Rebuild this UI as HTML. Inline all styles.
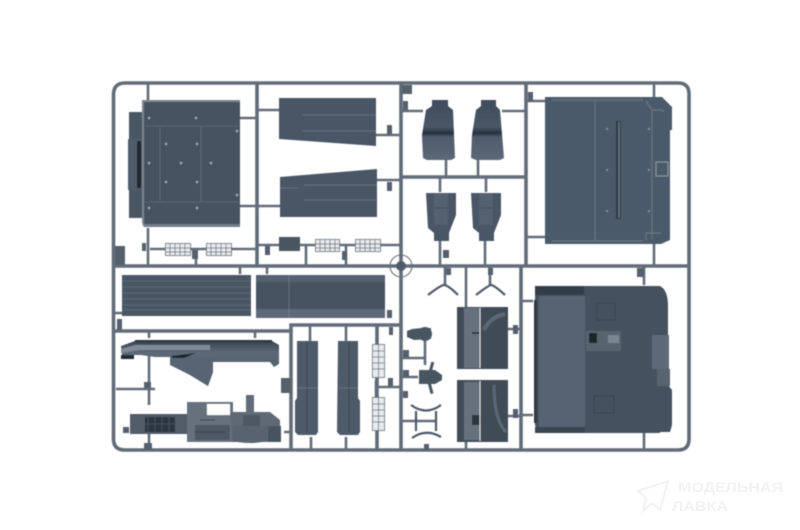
<!DOCTYPE html>
<html><head><meta charset="utf-8"><style>
html,body{margin:0;padding:0;background:#fff}
svg{display:block}
</style></head><body>
<svg width="800" height="530" viewBox="0 0 800 530" xmlns="http://www.w3.org/2000/svg" font-family="Liberation Sans, sans-serif">
<defs><filter id="b" x="-5%" y="-5%" width="110%" height="110%"><feGaussianBlur stdDeviation="0.5"/></filter>
<linearGradient id="seat" x1="0" y1="0" x2="0" y2="1"><stop offset="0" stop-color="#3f4d5c"/><stop offset=".45" stop-color="#4a5767"/><stop offset=".55" stop-color="#28323d"/><stop offset=".62" stop-color="#4f5c6c"/><stop offset="1" stop-color="#5c6877"/></linearGradient>
<linearGradient id="tray" x1="0" y1="0" x2="0" y2="1"><stop offset="0" stop-color="#37424e"/><stop offset=".25" stop-color="#5d6977"/><stop offset="1" stop-color="#4a5664"/></linearGradient>
</defs>
<rect width="800" height="530" fill="#fff"/>
<g filter="url(#b)">
<!-- runners -->
<g fill="none" stroke="#626c78" stroke-width="3.6">
<path d="M125 83H678Q689 83 689 94V439Q689 450 678 450H125Q113.500 450 113.500 439V95Q113.500 83 125 83Z"/>
<path d="M257 83V266M401 83V450M526 83V266M113 266H689M401 177H526M113 331H290M291 451V325H401M521 266V450M377 325V451"/>
</g>
<g fill="none" stroke="#626c78" stroke-width="2.600">
<path d="M148 84V100M148 228V266M240 118H257M240 206H257M257 110H279M257 206H280M376 135H401M377 180H401M150 249H165M190 249H206M231 249H257M257 245H280M300 245H315M340 245H355M380 245H401M306 245V266M346 245V266M196 250V266"/>
<path d="M401 111H423M502 111H526M446 160V177M478 160V177M440 177V192M486 177V192M440 240V266M485 240V266M526 101H545M526 237H545M654 84V98M654 243V266"/>
<path d="M240 266V274M267 266V274M113 313H122M149 331V338M255 331V338M149 355V405M116 389H155M149 433V450M310 325V341M346 325V341M311 437V451M346 437V451M376 380V405M377 387H401M284 432H291"/>
<path d="M445 266V285M490 266V285M466 266V307M466 442V450M401 358H425M401 377H418M425 340V365M508 329H521M508 416H521M521 301H533M521 415H533M644 266V285M644 433V450M401 421H436"/>
</g>
<!-- tabs -->
<g fill="#56616d">
<rect x="115" y="246" width="10" height="19"/>
<rect x="142" y="243" width="4" height="8"/>
<rect x="192" y="250" width="6" height="9"/>
<rect x="265" y="246" width="5" height="9"/>
<rect x="342" y="251" width="5" height="9"/>
<rect x="387" y="125" width="5" height="9"/>
<rect x="387" y="182" width="5" height="9"/>
<rect x="402" y="85" width="10" height="9"/>
<rect x="403" y="101" width="5" height="9"/>
<rect x="528" y="92" width="5" height="9"/>
<rect x="443" y="250" width="6" height="8"/>
<rect x="117" y="319" width="5" height="11"/>
<rect x="144" y="382" width="7" height="6"/>
<rect x="281" y="378" width="10" height="15"/>
<rect x="389" y="327" width="4" height="8"/>
<rect x="388" y="378" width="5" height="8"/>
<rect x="387" y="310" width="5" height="8"/>
<rect x="144" y="443" width="8" height="7"/>
<rect x="123" y="427" width="6" height="6"/>
<rect x="403" y="350" width="6" height="7"/>
<rect x="403" y="370" width="6" height="7"/>
<rect x="403" y="391" width="5" height="7"/>
<rect x="424" y="444" width="5" height="6"/>
<rect x="513" y="325" width="5" height="9"/>
<rect x="513" y="409" width="5" height="9"/>
<rect x="637" y="268" width="7" height="9"/>
<rect x="446" y="268" width="5" height="7"/>
<rect x="488" y="268" width="5" height="7"/>
</g>
<!-- wheel -->
<circle cx="401" cy="266" r="11" fill="none" stroke="#66707b" stroke-width="1.100"/>
<circle cx="401" cy="266" r="5" fill="#4f5b68"/>
<!-- top left panel -->
<rect x="129" y="112" width="14" height="106" fill="#4b5764"/>
<rect x="128" y="139" width="13" height="51" fill="#505c69"/>
<rect x="137" y="141" width="4" height="47" fill="#20272f"/>
<path d="M142 100H240V227H145L142 222Z" fill="#465361"/>
<path d="M142 100H240V102H144V222L145 227L143 226L142 222Z" fill="#7a8592"/>
<rect x="144" y="224" width="96" height="3" fill="#727d8a"/>
<g stroke="#6e7986" stroke-width=".6" fill="none"><path d="M145 126H239M145 202H239M160 127V201M201 127V201"/></g>
<g fill="#a2acb6"><circle cx="149" cy="118" r="1.200"/><circle cx="196" cy="118" r="1.200"/><circle cx="237" cy="131" r="1.200"/><circle cx="166" cy="144" r="1.200"/><circle cx="197" cy="144" r="1.200"/><circle cx="149" cy="163" r="1.200"/><circle cx="181" cy="163" r="1.200"/><circle cx="211" cy="163" r="1.200"/><circle cx="166" cy="182" r="1.200"/><circle cx="197" cy="182" r="1.200"/><circle cx="237" cy="195" r="1.200"/><circle cx="149" cy="208" r="1.200"/><circle cx="197" cy="208" r="1.200"/></g>
<!-- wings -->
<path d="M279 98H376V146L279 139Z" fill="#4a5766"/>
<path d="M280 177L377 169V217H280Z" fill="#4a5766"/>
<g stroke="#65707c" stroke-width="1" fill="none"><path d="M302 115H376M302 131H376M304 185H377M304 200H377M280 188H298"/></g>
<!-- grilles -->
<g fill="#e8ebee" stroke="#56616d" stroke-width=".8">
<rect x="165.500" y="243.500" width="25" height="12"/><rect x="206.500" y="243.500" width="25" height="12"/><rect x="315.500" y="239.500" width="24" height="12"/><rect x="355.500" y="239.500" width="25" height="12"/>
<rect x="372.500" y="344.500" width="12" height="33"/><rect x="372.500" y="397.500" width="12" height="33"/>
</g>
<g stroke="#56616d" stroke-width=".7" fill="none">
<path d="M170 244V255M175 244V255M180 244V255M185 244V255M166 248H190M166 252H190M211 244V255M216 244V255M221 244V255M226 244V255M207 248H231M207 252H231M320 240V251M325 240V251M330 240V251M335 240V251M316 244H339M316 248H339M360 240V251M365 240V251M370 240V251M375 240V251M356 244H380M356 248H380M378.500 345V377M378.500 398V430M373 351H384M373 357H384M373 363H384M373 369H384M373 404H384M373 410H384M373 416H384M373 422H384"/>
</g>
<rect x="279" y="237" width="21" height="14" fill="#4a5560"/>
<!-- seats -->
<path d="M432 100H448V106L453 110L455 158L451 160H427L423 158L422 135L426 110L432 106Z" fill="url(#seat)"/>
<path d="M481 100H496V106L500 110L504 158L500 160H476L471 158L472 135L476 110L481 106Z" fill="url(#seat)"/>
<path d="M426 193H456L456 215L449 233V241H434V233L428 228Z" fill="#4a5766"/>
<path d="M471 193H501L501 215L494 233V241H479V233L473 228Z" fill="#4a5766"/>
<path d="M434 193H448V225H434ZM479 193H493V225H479Z" fill="#556170"/>
<path d="M434 208H448M479 208H493" stroke="#3c4855" stroke-width=".8"/>
<!-- right top panel -->
<path d="M545 97H662L672 107V130H670V240L661 244H545V97Z" fill="#4c5a6a"/>
<g stroke="#79848f" stroke-width=".7" fill="none"><path d="M552 100H643M552 241H643M595 100V241M652 110V239M646 101L652 110H663V112M646 233H661M646 233L646 240"/></g>
<rect x="616" y="121" width="5" height="98" fill="#2e3842"/>
<rect x="618" y="122" width="2" height="96" fill="#5e6a77"/>
<rect x="656" y="162" width="12" height="14" fill="none" stroke="#8b95a0" stroke-width="1"/>
<g fill="#8c97a2"><circle cx="607" cy="129" r="1"/><circle cx="649" cy="129" r="1"/><circle cx="607" cy="170" r="1"/><circle cx="649" cy="170" r="1"/><circle cx="607" cy="211" r="1"/><circle cx="649" cy="211" r="1"/></g>
<!-- long panels -->
<rect x="122" y="275" width="129" height="41" fill="#4a5764"/>
<g stroke="#626d78" stroke-width=".7"><path d="M122 281H251M122 287H251M122 293H251M122 299H251M122 305H251M122 310H251"/></g>
<rect x="256" y="275" width="129" height="43" fill="#465361"/>
<rect x="256" y="309" width="129" height="9" fill="#5d6978"/>
<rect x="256" y="275" width="129" height="7" fill="#556170"/>
<path d="M289 275V318" stroke="#7a8592" stroke-width=".6"/>
<!-- fender -->
<path d="M121 346L135 341H272L279 345V364L274 367L270 362H213V372L208 386L190 375L170 365V357H155L141 355H122Z" fill="url(#tray)"/>
<rect x="135" y="340" width="137" height="2" fill="#2c3540"/>
<path d="M121 349L135 345H210V350H140L121 353Z" fill="#7f8b98"/>
<rect x="121" y="355" width="13" height="4" fill="#232b34"/>
<path d="M172 356L196 353L184 358H172Z" fill="#1f262e"/>
<path d="M172 358H213V372L208 386L190 375L172 365Z" fill="#586473"/>
<!-- dash -->
<rect x="130" y="414" width="58" height="20" fill="#515c68"/>
<rect x="145" y="417" width="30" height="15" fill="#2c343d"/>
<path d="M148 417V432M155 417V432M162 417V432M169 417V432M145 424H175" stroke="#4b5661" stroke-width=".8"/>
<rect x="187" y="402" width="46" height="40" fill="#66717d"/>
<rect x="207" y="404" width="23" height="11" fill="#fff"/>
<rect x="195" y="425" width="35" height="15" fill="#4d5864"/>
<path d="M200 420H215M195 432H225" stroke="#38424d" stroke-width="1"/>
<path d="M230 412H270L280 420V442H233Z" fill="#5e6975"/>
<rect x="246" y="395" width="8" height="20" fill="#616c78"/>
<rect x="243" y="415" width="17" height="12" fill="#4d5864"/>
<path d="M232 426H267V441Q250 445 232 441Z" fill="#59636e"/>
<rect x="268" y="426" width="13" height="16" fill="#47525e"/>
<!-- tall parts -->
<path d="M297 341H318V432L316 435H298L295 432V401L297 398Z" fill="#4d5a68"/>
<path d="M338 341H358V398L360 401V432L358 435H340L337 432Z" fill="#4d5a68"/>
<path d="M307 341V432M349 341V432" stroke="#3a4653" stroke-width="1"/>
<path d="M297 388H318M338 388H358" stroke="#7b8692" stroke-width=".6"/>
<!-- right column parts -->
<rect x="457" y="307" width="51" height="62" fill="#3f4b57"/>
<rect x="457" y="380" width="51" height="62" fill="#3f4b57"/>
<rect x="464" y="308" width="16" height="60" fill="#66717d"/>
<rect x="464" y="382" width="16" height="58" fill="#66717d"/>
<rect x="472" y="332" width="8" height="2" fill="#2c343d"/>
<rect x="472" y="415" width="8" height="10" fill="#2c343d"/>
<path d="M484 330Q490 317 505 314" stroke="#5c6875" stroke-width="4" fill="none"/>
<path d="M494 385Q494 420 506 432" stroke="#5c6875" stroke-width="3" fill="none"/>
<path d="M480 308V368M480 381V441" stroke="#e6e8ea" stroke-width=".9"/>
<!-- small parts -->
<g fill="#4a5662">
<path d="M412 329L422 328H431V339L414 340L407 337V331Z"/>
<circle cx="425" cy="334" r="7"/>
<path d="M419 370H435L442 375V380L435 384H419Z"/>
<rect x="430" y="362" width="3" height="10" transform="rotate(15 432 367)"/>
<rect x="429" y="383" width="3" height="11" transform="rotate(-15 430 388)"/>
</g>
<g fill="none" stroke="#4e5a67" stroke-width="2.200">
<path d="M428 295Q441 285 444 285Q448 285 458 295M476 295Q489 285 491 285Q494 285 505 295"/>
<path d="M411 405Q426 416 441 405M412 438Q426 428 441 437M416 411V431M436 411V431"/>
</g>
<!-- big lower right -->
<path d="M535 286H660Q668 290 668 306V385L672 390V425L670 432H660V433H538L535 425Z" fill="#45515e"/>
<rect x="535" y="286" width="49" height="9" fill="#323d48"/>
<rect x="539" y="296" width="46" height="131" fill="#566372"/>
<rect x="535" y="427" width="50" height="6" fill="#3a4551"/>
<rect x="534" y="300" width="3" height="123" fill="#2e3841"/>
<rect x="586" y="331" width="35" height="20" fill="#59646f"/>
<rect x="589" y="333" width="8" height="10" fill="#1f262c"/>
<rect x="608" y="335" width="11" height="8" fill="#7b8691"/>
<rect x="597" y="303" width="18" height="17" fill="none" stroke="#37424d" stroke-width="1"/>
<rect x="594" y="396" width="20" height="17" fill="none" stroke="#37424d" stroke-width="1"/>
<rect x="652" y="335" width="17" height="34" fill="#5d6978"/>
<rect x="657" y="369" width="13" height="17" fill="#58646f"/>
</g>
<!-- watermark -->
<g fill="none" stroke="#f2f2f2" stroke-width="2"><path d="M638 491L668 481L660 510L652 503L643 511L646 498Z"/></g>
<text x="678" y="492" font-size="14" font-weight="bold" fill="#f2f2f2" textLength="105" lengthAdjust="spacingAndGlyphs">МОДЕЛЬНАЯ</text>
<text x="672" y="511" font-size="14" font-weight="bold" fill="#f2f2f2" textLength="56" lengthAdjust="spacingAndGlyphs">ЛАВКА</text>
</svg>
</body></html>
